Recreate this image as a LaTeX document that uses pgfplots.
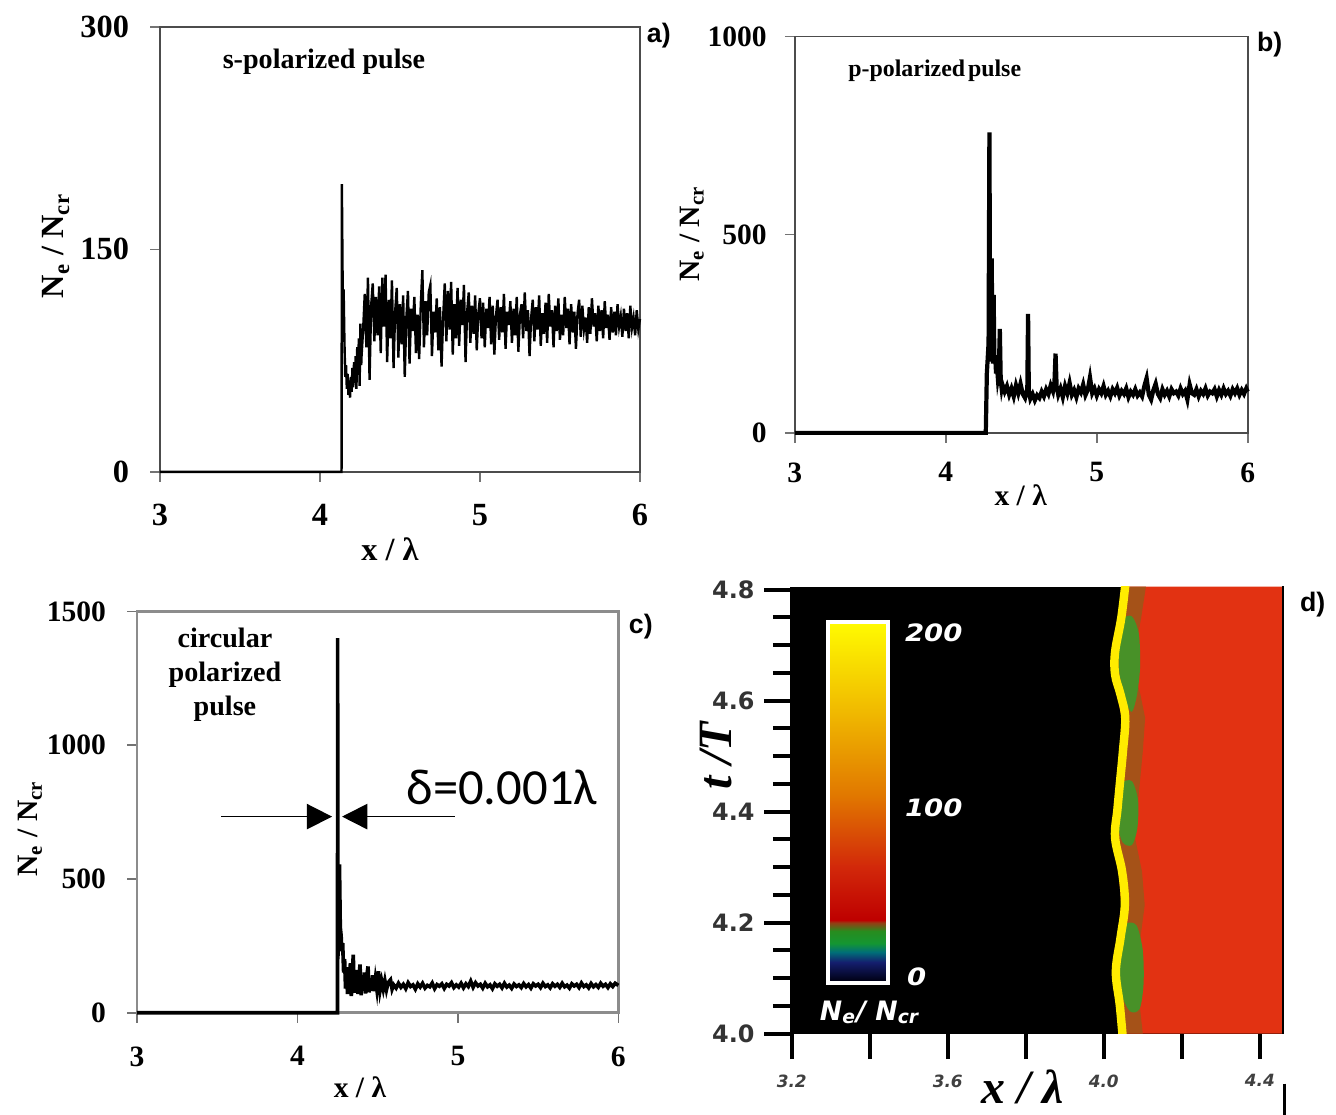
\documentclass[border=0pt]{standalone}
\usepackage{fontspec}
\setmainfont{Liberation Serif}
\setsansfont{Liberation Sans}
\newfontfamily\carlito{Carlito}
\newfontfamily\dejavu{DejaVu Sans}[BoldFont={DejaVu Sans Bold}, ItalicFont={DejaVu Sans Oblique}, BoldItalicFont={DejaVu Sans Bold Oblique}]
\usepackage{amsmath}
\usepackage{pgfplots}
\pgfplotsset{compat=1.18}
\usetikzlibrary{arrows.meta}

\definecolor{hotred}{RGB}{226,50,18}
\definecolor{edgeyel}{RGB}{255,236,0}
\definecolor{rim}{RGB}{165,82,24}
\definecolor{patchgreen}{RGB}{72,145,40}
\definecolor{cb0}{RGB}{0,0,20}
\definecolor{cb1}{RGB}{20,30,110}
\definecolor{cb2}{RGB}{0,110,120}
\definecolor{cb3}{RGB}{20,150,50}
\definecolor{cb4}{RGB}{40,140,30}
\definecolor{cb5}{RGB}{150,60,20}
\definecolor{cb6}{RGB}{190,0,0}
\definecolor{cb7}{RGB}{210,40,10}
\definecolor{cb8}{RGB}{225,120,0}
\definecolor{cb9}{RGB}{240,185,0}
\definecolor{cb10}{RGB}{255,250,0}

\pgfplotsset{
  excel/.style={
    scale only axis, anchor=south west, clip=false,
    xmin=3, xmax=6, xtick={3,4,5,6},
    tick pos=left, tick align=outside, major tick length=3.5pt,
    axis line style={black!70, line width=0.6pt},
    tick style={black!55, line width=0.6pt},
    /pgf/number format/assume math mode=true,
    /pgf/number format/1000 sep={},
  },
}

\begin{document}
\begin{tikzpicture}
\path[use as bounding box] (0,0) rectangle (16.7cm,13.9375cm);
\begin{scope}[x=0.0125cm, y=-0.0125cm, yshift=13.9375cm]
  \coordinate (pa) at (160,472);
  \coordinate (pb) at (795,433);
  \coordinate (pc) at (137,1013);
  \coordinate (pd) at (790,1034);
\end{scope}

% a) s-polarized
\begin{axis}[excel, at={(pa)}, width=6cm, height=5.5625cm,
  ymin=0, ymax=300, ytick={0,150,300},
  tick label style={font=\bfseries\fontsize{11.5}{12}\selectfont},
  yticklabel style={xshift=-4pt}, xticklabel style={yshift=-4.5pt}]
\addplot[black, line width=0.85pt] coordinates {
(3,0) (4.135,0) (4.137,194) (4.143,112) (4.148,123) (4.153,88) (4.158,64) (4.163,72)
(4.168,56) (4.173,66) (4.178,52) (4.183,61) (4.188,50) (4.193,64) (4.198,54) (4.203,70)
(4.208,57) (4.213,74) (4.218,60) (4.223,78) (4.228,56) (4.233,84) (4.238,66) (4.243,90)
(4.248,58) (4.253,100) (4.258,72)
(4.26,78) (4.27,96) (4.28,120) (4.29,84) (4.30,131) (4.31,62) (4.32,112) (4.33,127)
(4.34,88) (4.35,118) (4.36,92) (4.37,125) (4.38,80) (4.39,131) (4.40,98) (4.41,133)
(4.42,74) (4.43,116) (4.44,90) (4.45,129) (4.46,70) (4.47,108) (4.48,124) (4.49,77)
(4.50,113) (4.51,86) (4.52,119) (4.53,64) (4.54,104) (4.55,122) (4.56,73) (4.57,110)
(4.58,95) (4.59,118) (4.60,80) (4.61,106) (4.62,76) (4.63,112) (4.64,136) (4.65,84)
(4.66,115) (4.67,92) (4.68,121) (4.69,126) (4.70,78) (4.71,108) (4.72,94) (4.73,117)
(4.74,82) (4.75,111) (4.76,71) (4.77,104) (4.78,127) (4.79,88) (4.80,122) (4.81,96)
(4.82,128) (4.83,79) (4.84,113) (4.85,90) (4.86,124) (4.87,85) (4.88,116) (4.89,99)
(4.90,126) (4.91,74) (4.92,108) (4.93,121) (4.94,87) (4.95,112) (4.96,93) (4.97,119)
(4.98,82) (4.99,107) (5.00,117) (5.01,90) (5.02,114) (5.03,84) (5.04,110) (5.05,97)
(5.06,118) (5.07,86) (5.08,112) (5.09,79) (5.10,105) (5.11,116) (5.12,89) (5.13,111)
(5.14,94) (5.15,120) (5.16,83) (5.17,108) (5.18,99) (5.19,115) (5.20,87) (5.21,110)
(5.22,92) (5.23,118) (5.24,81) (5.25,106) (5.26,113) (5.27,90) (5.28,121) (5.29,95)
(5.30,109) (5.31,78) (5.32,104) (5.33,116) (5.34,88) (5.35,111) (5.36,96) (5.37,119)
(5.38,85) (5.39,107) (5.40,93) (5.41,114) (5.42,87) (5.43,120) (5.44,98) (5.45,109)
(5.46,84) (5.47,112) (5.48,95) (5.49,117) (5.50,89) (5.51,106) (5.52,92) (5.53,118)
(5.54,97) (5.55,110) (5.56,86) (5.57,113) (5.58,94) (5.59,108) (5.60,83) (5.61,107)
(5.62,116) (5.63,91) (5.64,112) (5.65,96) (5.66,104) (5.67,87) (5.68,111) (5.69,93)
(5.70,117) (5.71,98) (5.72,107) (5.73,88) (5.74,112) (5.75,95) (5.76,109) (5.77,90)
(5.78,115) (5.79,97) (5.80,106) (5.81,89) (5.82,111) (5.83,94) (5.84,108) (5.85,92)
(5.86,113) (5.87,98) (5.88,105) (5.89,91) (5.90,110) (5.91,95) (5.92,107) (5.93,90)
(5.94,112) (5.95,97) (5.96,104) (5.97,92) (5.98,109) (5.99,96) (6.00,103)
};
\end{axis}

% b) p-polarized
\begin{axis}[excel, at={(pb)}, width=5.6625cm, height=4.956cm,
  ymin=0, ymax=1000, ytick={0,500,1000},
  tick label style={font=\bfseries\fontsize{10.5}{12}\selectfont},
  yticklabel style={xshift=-3pt}, xticklabel style={yshift=-3.5pt}]
\addplot[black, line width=1.5pt] coordinates {
(3,0) (4.265,0) (4.272,150) (4.278,190) (4.283,180) (4.289,758) (4.294,240) (4.299,185)
(4.304,440) (4.309,215) (4.313,175) (4.317,348) (4.322,180) (4.327,196) (4.333,150)
(4.339,170) (4.345,138) (4.351,152) (4.358,262) (4.364,132) (4.370,112) (4.375,122)
(4.39,104) (4.405,118) (4.42,96) (4.435,112) (4.45,92) (4.465,120) (4.48,100) (4.495,124)
(4.51,98) (4.525,88) (4.535,104) (4.540,110) (4.545,300) (4.550,106) (4.56,86) (4.575,98)
(4.59,82) (4.605,95) (4.62,88) (4.635,104) (4.65,92) (4.665,110) (4.68,98) (4.695,120)
(4.71,105) (4.72,130) (4.727,200) (4.734,118) (4.745,96) (4.76,112) (4.775,90) (4.79,118)
(4.805,100) (4.82,126) (4.835,96) (4.85,108) (4.865,90) (4.88,112) (4.895,102) (4.91,122)
(4.925,95) (4.94,108) (4.955,140) (4.97,100) (4.985,112) (5.0,94) (5.015,110) (5.03,100)
(5.045,118) (5.06,96) (5.075,106) (5.09,92) (5.105,110) (5.12,100) (5.135,114) (5.15,94)
(5.165,106) (5.18,98) (5.195,112) (5.21,90) (5.225,104) (5.24,96) (5.255,110) (5.27,94)
(5.285,102) (5.30,92) (5.315,118) (5.33,138) (5.345,96) (5.36,84) (5.375,108) (5.39,124)
(5.405,98) (5.42,88) (5.435,110) (5.45,96) (5.465,106) (5.48,92) (5.495,110) (5.51,100)
(5.525,104) (5.54,94) (5.555,112) (5.57,98) (5.585,106) (5.60,84) (5.615,122) (5.63,100)
(5.645,96) (5.66,110) (5.675,92) (5.69,106) (5.705,98) (5.72,112) (5.735,94) (5.75,104)
(5.765,100) (5.78,110) (5.795,92) (5.81,108) (5.825,96) (5.84,112) (5.855,98) (5.87,106)
(5.885,94) (5.90,110) (5.915,100) (5.93,112) (5.945,96) (5.96,108) (5.975,98) (5.99,112)
(6.0,104)
};
\end{axis}

% c) circular
\begin{axis}[excel, at={(pc)}, width=6.0175cm, height=5.0163cm,
  ymin=0, ymax=1500, ytick={0,500,1000,1500},
  axis line style={black!45, line width=1pt},
  tick label style={font=\bfseries\fontsize{10.5}{12}\selectfont},
  yticklabel style={xshift=-4pt}, xticklabel style={yshift=-5pt}]
\addplot[black, line width=1.3pt] coordinates {
(3,0) (4.250,0) (4.2505,1400) (4.252,200) (4.262,554) (4.267,320) (4.272,290) (4.277,230)
(4.282,260) (4.288,150) (4.294,200) (4.300,90) (4.306,170) (4.312,70) (4.318,150)
(4.324,96) (4.330,185) (4.336,62) (4.342,140) (4.348,217) (4.354,74) (4.360,150)
(4.366,85) (4.372,160) (4.378,70) (4.384,130) (4.390,180) (4.397,65) (4.404,140)
(4.410,82) (4.418,150) (4.425,72) (4.432,135) (4.440,173) (4.447,76) (4.455,130)
(4.462,82) (4.470,140) (4.478,80) (4.486,125) (4.495,86) (4.505,155) (4.515,84)
(4.525,118) (4.535,88) (4.545,120) (4.555,86) (4.565,112) (4.580,123) (4.590,88)
(4.60,104) (4.615,92) (4.63,110) (4.645,95) (4.66,106) (4.675,90) (4.69,112) (4.705,98)
(4.72,104) (4.735,88) (4.75,108) (4.765,96) (4.78,110) (4.795,92) (4.81,102) (4.825,97)
(4.84,111) (4.855,90) (4.87,105) (4.885,99) (4.90,108) (4.915,91) (4.93,106) (4.945,100)
(4.96,112) (4.975,94) (4.99,104) (5.005,96) (5.02,110) (5.035,93) (5.05,108) (5.065,98)
(5.08,118) (5.095,95) (5.11,112) (5.125,100) (5.14,106) (5.155,92) (5.17,110) (5.185,97)
(5.20,104) (5.215,90) (5.23,108) (5.245,99) (5.26,106) (5.275,93) (5.29,110) (5.305,96)
(5.32,103) (5.335,91) (5.35,107) (5.365,98) (5.38,104) (5.395,94) (5.41,109) (5.425,97)
(5.44,105) (5.455,92) (5.47,108) (5.485,100) (5.50,106) (5.515,94) (5.53,110) (5.545,98)
(5.56,104) (5.575,93) (5.59,108) (5.605,99) (5.62,106) (5.635,95) (5.65,110) (5.665,97)
(5.68,103) (5.695,92) (5.71,108) (5.725,100) (5.74,106) (5.755,94) (5.77,111) (5.785,98)
(5.80,104) (5.815,93) (5.83,109) (5.845,97) (5.86,105) (5.875,95) (5.89,110) (5.905,99)
(5.92,106) (5.935,94) (5.95,108) (5.965,98) (5.98,110) (6.0,102)
};
\draw[line width=0.6pt, -{Triangle[length=9pt,width=9pt]}] (axis cs:3.526,733) -- (axis cs:4.216,733);
\draw[line width=0.6pt, -{Triangle[length=9pt,width=9pt]}] (axis cs:4.981,733) -- (axis cs:4.278,733);
\end{axis}

% d) density map
\begin{axis}[at={(pd)}, anchor=south west, scale only axis,
  width=6.175cm, height=5.5875cm,
  xmin=3.1949, xmax=4.4615, ymin=4.0, ymax=4.8054,
  axis background/.style={fill=black},
  axis line style={draw=none},
  tick pos=left, tick align=outside,
  major tick length=9pt, minor tick length=6pt,
  tick style={black, line width=1.4pt},
  xtick={3.2,3.4,3.6,3.8,4.0,4.2,4.4}, xticklabels={3.2,,3.6,,4.0,,4.4},
  ytick={4.0,4.2,4.4,4.6,4.8}, yticklabels={4.0,4.2,4.4,4.6,4.8},
  minor ytick={4.05,4.1,4.15,4.25,4.3,4.35,4.45,4.5,4.55,4.65,4.7,4.75},
  yticklabel style={font=\dejavu\bfseries\fontsize{8.5}{10}\selectfont, text=black!80},
  xticklabel style={font=\dejavu\bfseries\itshape\fontsize{6}{7}\selectfont, text=black!75, yshift=-2pt}]
% plasma (red) region
\addplot[draw=none, fill=hotred] coordinates {
(4.048,4.8054) (4.036,4.75) (4.020,4.688) (4.020,4.647) (4.034,4.611) (4.046,4.569)
(4.040,4.508) (4.032,4.449) (4.026,4.404) (4.020,4.353) (4.038,4.292) (4.045,4.232)
(4.034,4.173) (4.022,4.112) (4.032,4.052) (4.040,4.0) (4.4615,4.0) (4.4615,4.8054)} -- cycle;
% dark rim behind the front
\addplot[draw=none, fill=rim] coordinates {
(4.060,4.8054) (4.048,4.75) (4.032,4.688) (4.032,4.647) (4.046,4.611) (4.058,4.569)
(4.052,4.508) (4.044,4.449) (4.038,4.404) (4.032,4.353) (4.050,4.292) (4.057,4.232)
(4.046,4.173) (4.034,4.112) (4.044,4.052) (4.052,4.0)
(4.100,4.0) (4.092,4.052) (4.082,4.112) (4.094,4.173) (4.105,4.232) (4.098,4.292)
(4.080,4.353) (4.086,4.404) (4.092,4.449) (4.100,4.508) (4.106,4.569) (4.094,4.611)
(4.080,4.647) (4.080,4.688) (4.096,4.75) (4.108,4.8054)} -- cycle;
% green patches
\addplot[draw=none, fill=patchgreen, smooth cycle] coordinates {
(4.048,4.745) (4.072,4.752) (4.090,4.72) (4.093,4.66) (4.085,4.61) (4.072,4.58)
(4.056,4.60) (4.040,4.65) (4.038,4.70)};
\addplot[draw=none, fill=patchgreen, smooth cycle] coordinates {
(4.046,4.452) (4.072,4.455) (4.088,4.42) (4.086,4.37) (4.072,4.34) (4.048,4.345)
(4.036,4.38) (4.040,4.43)};
\addplot[draw=none, fill=patchgreen, smooth cycle] coordinates {
(4.058,4.198) (4.084,4.195) (4.100,4.15) (4.102,4.09) (4.092,4.045) (4.068,4.04)
(4.046,4.07) (4.040,4.12) (4.050,4.17)};
% bright front
\addplot[edgeyel, line width=3pt, smooth, tension=0.6] coordinates {
(4.057,4.82) (4.045,4.75) (4.029,4.688) (4.029,4.647) (4.043,4.611) (4.055,4.569)
(4.049,4.508) (4.041,4.449) (4.035,4.404) (4.029,4.353) (4.047,4.292) (4.054,4.232)
(4.043,4.173) (4.031,4.112) (4.041,4.052) (4.049,3.99)};
% colour bar
\addplot[draw=none, bottom color=cb0, top color=cb1] coordinates {(3.296,4.095) (3.445,4.095) (3.445,4.129) (3.296,4.129)} -- cycle;
\addplot[draw=none, bottom color=cb1, top color=cb2] coordinates {(3.296,4.129) (3.445,4.129) (3.445,4.147) (3.296,4.147)} -- cycle;
\addplot[draw=none, bottom color=cb2, top color=cb3] coordinates {(3.296,4.147) (3.445,4.147) (3.445,4.163) (3.296,4.163)} -- cycle;
\addplot[draw=none, bottom color=cb3, top color=cb4] coordinates {(3.296,4.163) (3.445,4.163) (3.445,4.185) (3.296,4.185)} -- cycle;
\addplot[draw=none, bottom color=cb4, top color=cb5] coordinates {(3.296,4.185) (3.445,4.185) (3.445,4.200) (3.296,4.200)} -- cycle;
\addplot[draw=none, bottom color=cb5, top color=cb6] coordinates {(3.296,4.200) (3.445,4.200) (3.445,4.205) (3.296,4.205)} -- cycle;
\addplot[draw=none, bottom color=cb6, top color=cb7] coordinates {(3.296,4.205) (3.445,4.205) (3.445,4.300) (3.296,4.300)} -- cycle;
\addplot[draw=none, bottom color=cb7, top color=cb8] coordinates {(3.296,4.300) (3.445,4.300) (3.445,4.430) (3.296,4.430)} -- cycle;
\addplot[draw=none, bottom color=cb8, top color=cb9] coordinates {(3.296,4.430) (3.445,4.430) (3.445,4.580) (3.296,4.580)} -- cycle;
\addplot[draw=none, bottom color=cb9, top color=cb10] coordinates {(3.296,4.580) (3.445,4.580) (3.445,4.739) (3.296,4.739)} -- cycle;
\addplot[white, line width=1.4pt] coordinates {(3.2934,4.092) (3.4474,4.092) (3.4474,4.742) (3.2934,4.742)} -- cycle;
\draw[black, line width=1.5pt] (rel axis cs:1,-0.02) -- (rel axis cs:1,1.02);
\end{axis}

% texts in picture pixel units
\begin{scope}[x=0.0125cm, y=-0.0125cm, yshift=13.9375cm]
  % a
  \node[font=\sffamily\bfseries\fontsize{9.5}{10}\selectfont] at (659,36) {a)};
  \node[font=\bfseries\fontsize{10}{12}\selectfont] at (324,62) {s-polarized pulse};
  \node[font=\bfseries\fontsize{11.5}{12}\selectfont] at (390,549) {x / λ};
  \node[font=\bfseries\fontsize{11.5}{12}\selectfont, rotate=90] at (56,246) {N\textsubscript{e} / N\textsubscript{cr}};
  % b
  \node[font=\sffamily\bfseries\fontsize{9.5}{10}\selectfont] at (1270,45) {b)};
  \node[font=\bfseries\fontsize{8.5}{10}\selectfont] at (935,71) {p-polarized\hspace{0.12em}pulse};
  \node[font=\bfseries\fontsize{10.5}{12}\selectfont] at (1021,495) {x / λ};
  \node[font=\bfseries\fontsize{10.5}{12}\selectfont, rotate=90] at (692,234) {N\textsubscript{e} / N\textsubscript{cr}};
  % c
  \node[font=\sffamily\bfseries\fontsize{9.5}{10}\selectfont] at (641,627) {c)};
  \node[font=\bfseries\fontsize{10}{12.1}\selectfont, align=center] at (225,675) {circular\\polarized\\pulse};
  \node[font=\carlito\fontsize{18}{19}\selectfont] at (502,788) {δ=0.001λ};
  \node[font=\bfseries\fontsize{10.5}{12}\selectfont] at (360,1088) {x / λ};
  \node[font=\bfseries\fontsize{10.5}{12}\selectfont, rotate=90] at (30,829) {N\textsubscript{e} / N\textsubscript{cr}};
  % d
  \node[font=\sffamily\bfseries\fontsize{9.5}{10}\selectfont] at (1313,605) {d)};
  \node[font=\dejavu\bfseries\itshape\fontsize{8.5}{10}\selectfont, text=white] at (934,633) {\scalebox{1.15}[1]{200}};
  \node[font=\dejavu\bfseries\itshape\fontsize{8.5}{10}\selectfont, text=white] at (934,808) {\scalebox{1.15}[1]{100}};
  \node[font=\dejavu\bfseries\itshape\fontsize{8.5}{10}\selectfont, text=white] at (917,977) {\scalebox{1.15}[1]{0}};
  \node[font=\dejavu\bfseries\itshape\fontsize{9.5}{10}\selectfont, text=white] at (870,1013) {N\textsubscript{e}/ N\textsubscript{cr}};
  \node[font=\bfseries\itshape\fontsize{17}{18}\selectfont, rotate=90] at (716,756) {t /T};
  \node[font=\bfseries\itshape\fontsize{17}{18}\selectfont, anchor=base, inner sep=1pt] at (1023,1104) {x / λ};
  \draw[black, line width=1.2pt] (1285,1084) -- (1285,1115);
\end{scope}
\end{tikzpicture}
\end{document}
